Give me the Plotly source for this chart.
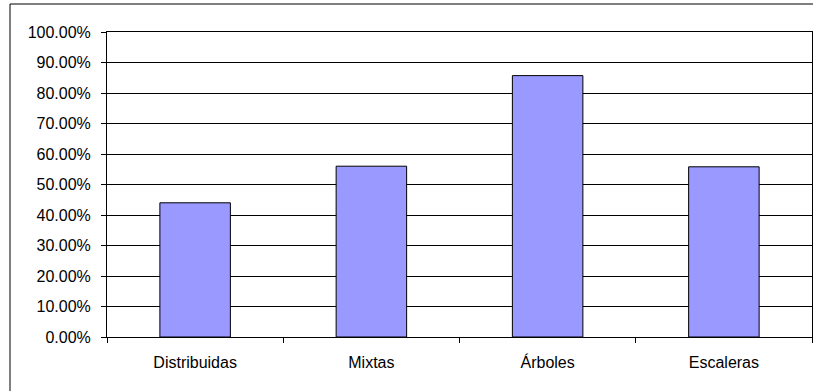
import plotly.graph_objects as go

categories = ["Distribuidas", "Mixtas", "Árboles", "Escaleras"]
values = [0.44, 0.56, 0.857, 0.558]
y_ticks = [i / 10 for i in range(11)]
y_tick_labels = [f"{v * 100:.2f}%" for v in y_ticks]

fig = go.Figure(
    go.Bar(
        x=categories,
        y=values,
        marker=dict(color="#9999FF", line=dict(color="#000000", width=1)),
        hoverinfo="x+y",
    )
)

font = dict(family="Liberation Sans, Arial, sans-serif", size=16, color="#000000")

fig.update_layout(
    width=813,
    height=391,
    margin=dict(l=107, r=1, t=32, b=54),
    paper_bgcolor="#FFFFFF",
    plot_bgcolor="#FFFFFF",
    bargap=0.6,
    showlegend=False,
    font=font,
    xaxis=dict(
        type="category",
        tickson="boundaries",
        ticks="outside",
        ticklen=5,
        tickcolor="#000000",
        showline=True,
        linecolor="#000000",
        linewidth=1,
        mirror=True,
        showgrid=False,
        tickfont=font,
        ticklabelstandoff=11,
    ),
    yaxis=dict(
        range=[0, 1],
        tickvals=y_ticks,
        ticktext=y_tick_labels,
        ticks="outside",
        ticklen=5,
        tickcolor="#000000",
        showline=True,
        linecolor="#000000",
        linewidth=1,
        mirror=True,
        showgrid=True,
        gridcolor="#000000",
        gridwidth=1,
        zeroline=False,
        tickfont=font,
        ticklabelstandoff=7,
    ),
    shapes=[
        dict(
            type="rect",
            xref="paper",
            yref="paper",
            x0=(10 - 107) / 705,
            x1=1.05,
            y0=-0.25,
            y1=(337 - 4) / 305,
            line=dict(color="#000000", width=1),
            fillcolor="rgba(0,0,0,0)",
            layer="below",
        )
    ],
)

fig.write_html("out.html")
